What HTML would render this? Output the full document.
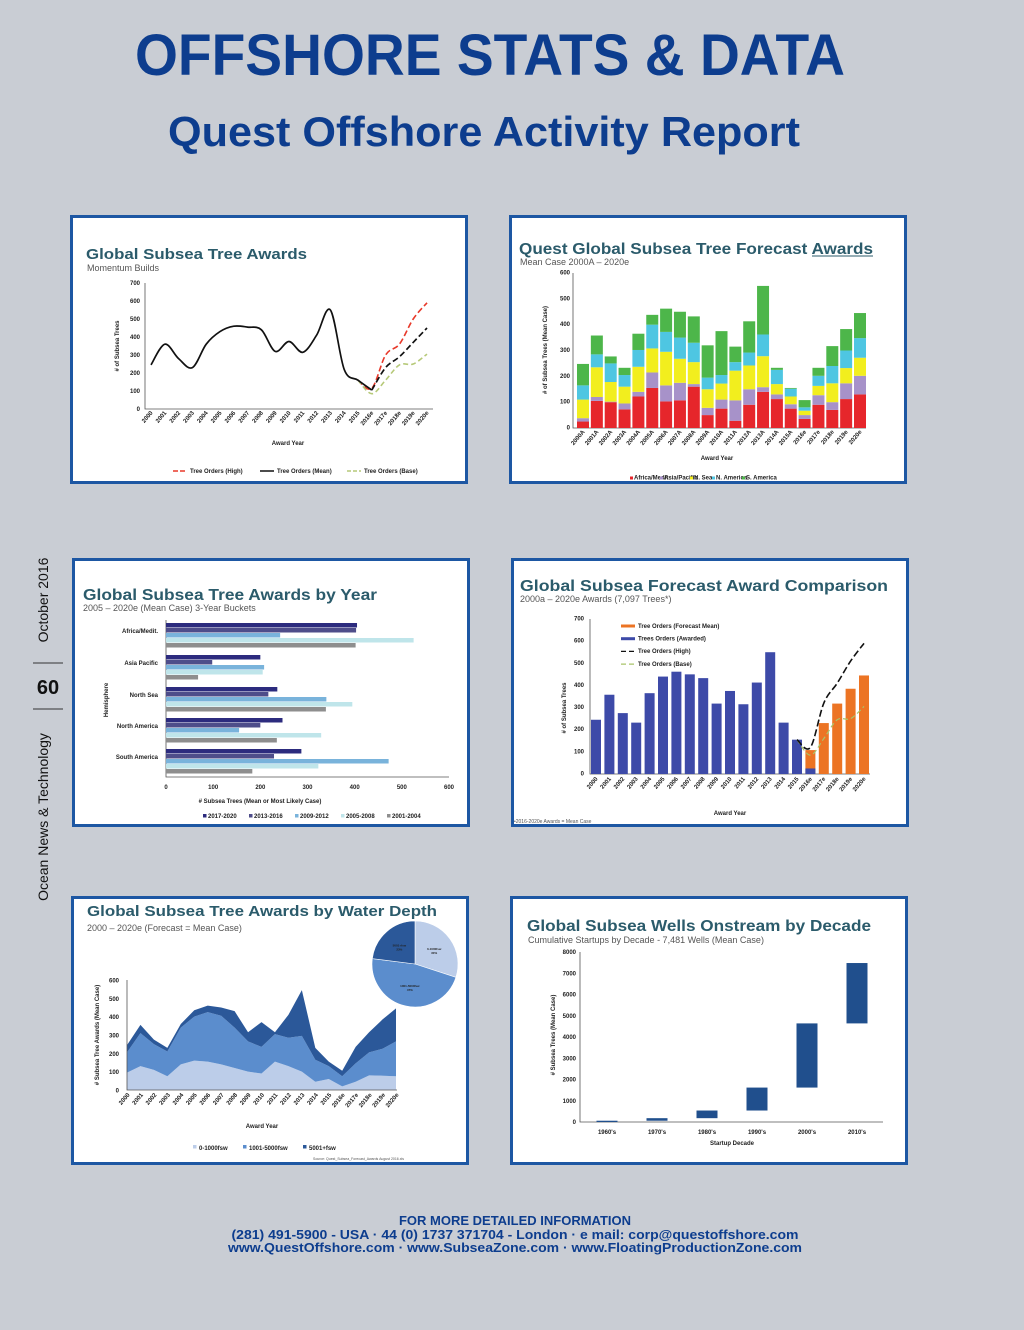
<!DOCTYPE html>
<html><head><meta charset="utf-8"><title>Offshore Stats & Data</title>
<style>
html,body{margin:0;padding:0;background:#c9cdd4;}
svg{display:block;font-family:"Liberation Sans",sans-serif;}
.ct{font-weight:bold;fill:#2b5b6b;}
.cs{fill:#555;}
.tk{font-size:6px;font-weight:bold;fill:#222;}
.ax{stroke:#555;stroke-width:0.8;fill:none;}
</style></head>
<body>
<svg id="page" width="1024" height="1330" viewBox="0 0 1024 1330" xmlns="http://www.w3.org/2000/svg">
<rect x="0" y="0" width="1024" height="1330" fill="#c9cdd4"/>
<text x="490" y="75" text-anchor="middle" font-size="58" font-weight="bold" fill="#0d3d8e" textLength="710" lengthAdjust="spacingAndGlyphs">OFFSHORE STATS &amp; DATA</text>
<text x="484" y="146" text-anchor="middle" font-size="42" font-weight="bold" fill="#0d3d8e" textLength="632" lengthAdjust="spacingAndGlyphs">Quest Offshore Activity Report</text>

<g>
<text transform="translate(48,600) rotate(-90)" text-anchor="middle" font-size="14" fill="#111">October 2016</text>
<line x1="33" y1="663" x2="63" y2="663" stroke="#333" stroke-width="1"/>
<text x="48" y="694" text-anchor="middle" font-size="20" font-weight="bold" fill="#111">60</text>
<line x1="33" y1="709" x2="63" y2="709" stroke="#333" stroke-width="1"/>
<text transform="translate(48,817) rotate(-90)" text-anchor="middle" font-size="14" fill="#111">Ocean News &amp; Technology</text>
</g>

<g>
<rect x="71.5" y="216.5" width="395" height="266" fill="#fff" stroke="#1d57a3" stroke-width="3"/>
<rect x="510.5" y="216.5" width="395" height="266" fill="#fff" stroke="#1d57a3" stroke-width="3"/>
<rect x="73.5" y="559.5" width="395" height="266" fill="#fff" stroke="#1d57a3" stroke-width="3"/>
<rect x="512.5" y="559.5" width="395" height="266" fill="#fff" stroke="#1d57a3" stroke-width="3"/>
<rect x="72.5" y="897.5" width="395" height="266" fill="#fff" stroke="#1d57a3" stroke-width="3"/>
<rect x="511.5" y="897.5" width="395" height="266" fill="#fff" stroke="#1d57a3" stroke-width="3"/>
</g>

<g>
<text class="ct" x="86" y="259" font-size="15" textLength="221" lengthAdjust="spacingAndGlyphs">Global Subsea Tree Awards</text>
<text class="cs" x="87" y="271" font-size="9">Momentum Builds</text>
<text class="ct" x="519" y="254" font-size="16" textLength="354" lengthAdjust="spacingAndGlyphs">Quest Global Subsea Tree Forecast Awards</text>
<line x1="812" y1="256" x2="873" y2="256" stroke="#2b5b6b" stroke-width="1"/>
<text class="cs" x="520" y="265" font-size="9">Mean Case 2000A – 2020e</text>
<text class="ct" x="83" y="600" font-size="16" textLength="294" lengthAdjust="spacingAndGlyphs">Global Subsea Tree Awards by Year</text>
<text class="cs" x="83" y="611" font-size="9">2005 – 2020e (Mean Case) 3-Year Buckets</text>
<text class="ct" x="520" y="591" font-size="16" textLength="368" lengthAdjust="spacingAndGlyphs">Global Subsea Forecast Award Comparison</text>
<text class="cs" x="520" y="602" font-size="9">2000a – 2020e Awards (7,097 Trees*)</text>
<text class="cs" x="514" y="823" font-size="5" fill="#1d57a3">•2016-2020e Awards = Mean Case</text>
<text class="ct" x="87" y="916" font-size="15" textLength="350" lengthAdjust="spacingAndGlyphs">Global Subsea Tree Awards by Water Depth</text>
<text class="cs" x="87" y="931" font-size="9">2000 – 2020e (Forecast = Mean Case)</text>
<text class="cs" x="313" y="1160" font-size="3.5">Source: Quest_Subsea_Forecast_Awards August 2016.xls</text>
<text class="ct" x="527" y="931" font-size="16" textLength="344" lengthAdjust="spacingAndGlyphs">Global Subsea Wells Onstream by Decade</text>
<text class="cs" x="528" y="943" font-size="9">Cumulative Startups by Decade - 7,481 Wells (Mean Case)</text>
</g>

<g id="charts"></g>

<g font-weight="bold" fill="#0d3d8e" font-size="13" text-anchor="middle">
<text x="515" y="1225">FOR MORE DETAILED INFORMATION</text>
<text x="515" y="1239" textLength="567" lengthAdjust="spacingAndGlyphs">(281) 491-5900 - USA  ·  44 (0) 1737 371704 - London  ·  e mail: corp@questoffshore.com</text>
<text x="515" y="1252" textLength="574" lengthAdjust="spacingAndGlyphs">www.QuestOffshore.com  ·  www.SubseaZone.com  ·  www.FloatingProductionZone.com</text>
</g>
</svg>

<script>
// ---------- DATA ----------
const years = ['2000','2001','2002','2003','2004','2005','2006','2007','2008','2009','2010','2011','2012','2013','2014','2015','2016e','2017e','2018e','2019e','2020e'];
const yearsA = ['2000A','2001A','2002A','2003A','2004A','2005A','2006A','2007A','2008A','2009A','2010A','2011A','2012A','2013A','2014A','2015A','2016e','2017e','2018e','2019e','2020e'];
// chart 1
const meanOrders = [245,360,280,230,360,430,460,455,440,320,375,315,410,550,220,160,105,230,290,370,450];
const highOrders = [null,null,null,null,null,null,null,null,null,null,null,null,null,null,null,160,115,300,360,500,590];
const baseOrders = [null,null,null,null,null,null,null,null,null,null,null,null,null,null,null,160,85,160,245,250,305];
const c1Ticks = [0,100,200,300,400,500,600,700];
// chart 2 (stacked by region)
const regionNames = ['Africa/Medit.','Asia/Pacific','N. Sea','N. America','S. America'];
const africa = [25,105,100,72,122,155,103,107,160,50,75,28,90,140,112,75,35,90,70,112,130];
const asiaPac = [13,15,2,23,18,60,62,68,10,28,35,79,60,18,18,17,15,37,30,61,72];
const northSea = [72,115,76,65,97,93,130,93,85,72,62,115,92,120,40,30,17,36,73,59,70];
const northAm = [55,50,72,45,65,92,77,82,75,45,33,33,50,84,55,30,13,39,67,68,76];
const southAm = [83,73,27,28,63,38,90,100,102,125,170,60,121,188,8,3,28,31,77,83,97];
const c2Ticks = [0,100,200,300,400,500,600];
// chart 3
const hemispheres = ['Africa/Medit.','Asia Pacific','North Sea','North America','South America'];
const buckets = ['2017-2020','2013-2016','2009-2012','2005-2008','2001-2004'];
const b2017 = [405,200,236,247,287];
const b2013 = [403,98,217,200,229];
const b2009 = [242,208,340,155,472];
const b2005 = [525,205,395,329,323];
const b2001 = [402,68,339,235,183];
const c3Ticks = [0,100,200,300,400,500,600];
// chart 4
const awarded = [245,358,275,232,365,440,462,450,433,318,375,315,413,550,232,155,25,null,null,null,null];
const forecastMean = [null,null,null,null,null,null,null,null,null,null,null,null,null,null,null,null,108,230,318,385,445];
const highC4 = [null,null,null,null,null,null,null,null,null,null,null,null,null,null,null,155,120,320,410,510,590];
const baseC4 = [null,null,null,null,null,null,null,null,null,null,null,null,null,null,null,155,85,160,245,250,305];
const c4Ticks = [0,100,200,300,400,500,600,700];
// chart 5
const shallow = [95,130,110,75,140,160,155,140,120,100,90,155,130,100,45,60,20,45,80,78,75];
const midDepth = [110,180,140,135,200,240,270,265,220,165,145,150,155,195,120,70,55,100,125,147,190];
const deepWater = [40,45,25,20,20,35,35,45,90,50,135,10,125,250,65,25,30,90,110,160,180];
const c5Ticks = [0,100,200,300,400,500,600];
const pieLabels = ['0-1000fsw','1001-5000fsw','5001+fsw'];
const pieShares = [30,47,23];
// chart 6
const decades = ["1960's","1970's","1980's","1990's","2000's","2010's"];
const wellsPerDecade = [60,120,360,1080,3020,2841];
const c6Ticks = [0,1000,2000,3000,4000,5000,6000,7000,8000];

// ---------- HELPERS ----------
const NS='http://www.w3.org/2000/svg';
const root=document.getElementById('charts');
function mk(tag,attrs,parent){const e=document.createElementNS(NS,tag);for(const k in attrs)e.setAttribute(k,attrs[k]);(parent||root).appendChild(e);return e;}
function txt(x,y,s,attrs,parent){const t=mk('text',Object.assign({x:x,y:y},attrs||{}),parent);t.textContent=s;return t;}
function smooth(pts){let d='M'+pts[0][0]+','+pts[0][1];for(let i=0;i<pts.length-1;i++){const p0=pts[i-1]||pts[i],p1=pts[i],p2=pts[i+1],p3=pts[i+2]||p2;const c1x=p1[0]+(p2[0]-p0[0])/6,c1y=p1[1]+(p2[1]-p0[1])/6,c2x=p2[0]-(p3[0]-p1[0])/6,c2y=p2[1]-(p3[1]-p1[1])/6;d+=' C'+c1x+','+c1y+' '+c2x+','+c2y+' '+p2[0]+','+p2[1];}return d;}
function pts(arr,xf,yf,from,to){const r=[];for(let i=from;i<=to;i++){if(arr[i]!=null)r.push([xf(i),yf(arr[i])]);}return r;}

// ---------- CHART 1 ----------
(function(){
const g=mk('g',{});


const x=i=>151+i*(276/20), y=v=>409-v*(126/700);
mk('path',{d:'M145,283 V409 H433',class:'ax'},g);
c1Ticks.forEach(t=>{const l=txt(140,y(t)+2,String(t),{class:'tk','text-anchor':'end','font-size':'5'},g);

});
years.forEach((s,i)=>{const l=txt(x(i)+2,413,s,{class:'tk','text-anchor':'end','font-size':'5',transform:'rotate(-50 '+(x(i)+2)+' 413)'},g);

});
const yt=txt(0,0,'# of Subsea Trees',{class:'tk','font-size':'5','text-anchor':'middle',transform:'translate(119,346) rotate(-90)'},g);


const xt=txt(288,445,'Award Year',{class:'tk','font-size':'5.5','text-anchor':'middle'},g);


const hi=mk('path',{d:smooth(pts(highOrders,x,y,15,20)),stroke:'#e8392a',fill:'none','stroke-width':1.6,'stroke-dasharray':'6 3'},g);


const ba=mk('path',{d:smooth(pts(baseOrders,x,y,15,20)),stroke:'#b6c978',fill:'none','stroke-width':1.6,'stroke-dasharray':'5 3'},g);


const m1=mk('path',{d:smooth(pts(meanOrders,x,y,0,16)),stroke:'#111',fill:'none','stroke-width':1.7},g);


const m2=mk('path',{d:smooth(pts(meanOrders,x,y,16,20)),stroke:'#111',fill:'none','stroke-width':1.7,'stroke-dasharray':'6 3'},g);


const leg=[['Tree Orders (High)','#e8392a','5 2'],['Tree Orders (Mean)','#111','none'],['Tree Orders (Base)','#b6c978','4 2']];
leg.forEach((l,i)=>{const lx=173+i*87;const e=mk('g',{},g);


mk('line',{x1:lx,y1:471,x2:lx+14,y2:471,stroke:l[1],'stroke-width':1.5,'stroke-dasharray':l[2]},e);
txt(lx+17,473,l[0],{class:'tk','font-size':'5'},e);});
})();

// ---------- CHART 2 ----------
(function(){
const g=mk('g',{});


const x=i=>583+i*(277/20), y=v=>428-v*(155/600);
mk('path',{d:'M573,273 V428 H866',class:'ax'},g);
c2Ticks.forEach(t=>{const l=txt(570,y(t)+1.5,String(t),{class:'tk','text-anchor':'end','font-size':'4.5'},g);

});
yearsA.forEach((s,i)=>{const l=txt(x(i)+2,432,s,{class:'tk','text-anchor':'end','font-size':'4.5',transform:'rotate(-50 '+(x(i)+2)+' 432)'},g);

});
const yt=txt(0,0,'# of Subsea Trees (Mean Case)',{class:'tk','font-size':'4.5','text-anchor':'middle',transform:'translate(547,350) rotate(-90)'},g);


const xt=txt(717,460,'Award Year',{class:'tk','font-size':'4.5','text-anchor':'middle'},g);


const series=[africa,asiaPac,northSea,northAm,southAm];
const cols=['#e6262b','#a792c9','#f2ee1e','#4ec6e2','#4db64a'];
years.forEach((yr,i)=>{let acc=0;series.forEach((s,k)=>{const b=mk('rect',{x:x(i)-6,y:y(acc+s[i]),width:12,height:y(acc)-y(acc+s[i]),fill:cols[k]},g);


acc+=s[i];});});
const legX=[630,660,690,712,742];
regionNames.forEach((n,k)=>{const lx=legX[k];const e=mk('g',{},g);


mk('rect',{x:lx,y:476.5,width:3,height:3,fill:cols[k]},e);
txt(lx+4,479.5,n,{class:'tk','font-size':'3.2'},e);});
})();

// ---------- CHART 3 ----------
(function(){
const g=mk('g',{});


const x=v=>166+v*(283/600);
const cy=[635,667,699,730,761];
mk('path',{d:'M166,620 V777 H449',class:'ax'},g);
c3Ticks.forEach(t=>{const l=txt(x(t),789,String(t),{class:'tk','text-anchor':'middle','font-size':'5'},g);

});
hemispheres.forEach((h,i)=>{const l=txt(158,cy[i]-2,h,{class:'tk','text-anchor':'end','font-size':'5'},g);

});
const yt=txt(0,0,'Hemisphere',{class:'tk','font-size':'5','text-anchor':'middle',transform:'translate(108,700) rotate(-90)'},g);


const xt=txt(260,803,'# Subsea Trees (Mean or Most Likely Case)',{class:'tk','font-size':'5','text-anchor':'middle'},g);


const series=[b2017,b2013,b2009,b2005,b2001];
const cols=['#2c2b7e','#4e4d8a','#79b3db','#bfe5ea','#8e8e8e'];
hemispheres.forEach((h,i)=>{series.forEach((s,k)=>{const b=mk('rect',{x:166,y:cy[i]-12+k*5,width:x(s[i])-166,height:4.5,fill:cols[k]},g);

});});
buckets.forEach((n,k)=>{const lx=203+k*46;const e=mk('g',{},g);


mk('rect',{x:lx,y:814,width:3.5,height:3.5,fill:cols[k]},e);
txt(lx+5,818,n,{class:'tk','font-size':'5'},e);});
})();

// ---------- CHART 4 ----------
(function(){
const g=mk('g',{});


const x=i=>596+i*(268/20), y=v=>774-v*(155/700);
mk('path',{d:'M590,619 V774 H870',class:'ax'},g);
c4Ticks.forEach(t=>{const l=txt(584,y(t)+1.5,String(t),{class:'tk','text-anchor':'end','font-size':'4.5'},g);

});
years.forEach((s,i)=>{const l=txt(x(i)+2,779,s,{class:'tk','text-anchor':'end','font-size':'4.5',transform:'rotate(-50 '+(x(i)+2)+' 779)'},g);

});
const yt=txt(0,0,'# of Subsea Trees',{class:'tk','font-size':'4.5','text-anchor':'middle',transform:'translate(566,708) rotate(-90)'},g);


const xt=txt(730,815,'Award Year',{class:'tk','font-size':'4.5','text-anchor':'middle'},g);


years.forEach((yr,i)=>{
if(forecastMean[i]!=null){const b=mk('rect',{x:x(i)-5,y:y(forecastMean[i]),width:10,height:774-y(forecastMean[i]),fill:'#ec7424'},g);

}
if(awarded[i]!=null){const b=mk('rect',{x:x(i)-5,y:y(awarded[i]),width:10,height:774-y(awarded[i]),fill:'#3d4aa8'},g);

}});
const ba=mk('path',{d:smooth(pts(baseC4,x,y,15,20)),stroke:'#a9c46a',fill:'none','stroke-width':1.2,'stroke-dasharray':'5 3'},g);


const hi=mk('path',{d:smooth(pts(highC4,x,y,15,20)),stroke:'#111',fill:'none','stroke-width':1.6,'stroke-dasharray':'7 3'},g);


const leg=[['Tree Orders (Forecast Mean)','rect','#ec7424'],['Trees Orders (Awarded)','rect','#3d4aa8'],['Tree Orders (High)','dash','#111'],['Tree Orders (Base)','dash','#a9c46a']];
leg.forEach((l,k)=>{const ly=626+k*12.7;const e=mk('g',{},g);


if(l[1]=='rect')mk('rect',{x:621,y:ly-1.5,width:14,height:3,fill:l[2]},e);
else mk('line',{x1:621,y1:ly,x2:635,y2:ly,stroke:l[2],'stroke-width':1.3,'stroke-dasharray':'5 3'},e);
txt(638,ly+1.8,l[0],{class:'tk','font-size':'4.5'},e);});
})();

// ---------- CHART 5 ----------
(function(){
const g=mk('g',{});


const x=i=>127+i*(269/20), y=v=>1090-v*(110/600);
const series=[shallow,midDepth,deepWater];
const cols=['#bccde9','#5b8dcd','#2b5899'];
const names=['0-1000fsw','1001-5000fsw','5001+fsw'];
const base=years.map(()=>0);
series.forEach((s,k)=>{const top=base.map((b,i)=>b+s[i]);
let d='M'+x(0)+','+y(top[0]);for(let i=1;i<top.length;i++)d+=' L'+x(i)+','+y(top[i]);
for(let i=top.length-1;i>=0;i--)d+=' L'+x(i)+','+y(base[i]);d+=' Z';
const a=mk('path',{d:d,fill:cols[k]},g);


for(let i=0;i<top.length;i++)base[i]=top[i];});
mk('path',{d:'M127,980 V1090 H397',class:'ax'},g);
c5Ticks.forEach(t=>{const l=txt(119,y(t)+2.5,String(t),{class:'tk','text-anchor':'end','font-size':'6'},g);

});
years.forEach((s,i)=>{const l=txt(x(i)+3,1095,s,{class:'tk','text-anchor':'end','font-size':'6',transform:'rotate(-50 '+(x(i)+3)+' 1095)'},g);

});
const yt=txt(0,0,'# Subsea Tree Awards (Mean Case)',{class:'tk','font-size':'5.5','text-anchor':'middle',transform:'translate(99,1035) rotate(-90)'},g);


const xt=txt(262,1128,'Award Year',{class:'tk','font-size':'6','text-anchor':'middle'},g);


names.forEach((n,k)=>{const lx=[193,243,303][k];const e=mk('g',{},g);


mk('rect',{x:lx,y:1145,width:3.5,height:3.5,fill:cols[k]},e);
txt(lx+6,1150,n,{class:'tk','font-size':'6'},e);});
const cx=415,cy=964,r=43;let ang=0;
const pcol=['#bccde9','#5b8dcd','#2b5899'];
pieShares.forEach((p,k)=>{const a0=ang*Math.PI/50,a1=(ang+p)*Math.PI/50;
const x0=cx+r*Math.sin(a0),y0=cy-r*Math.cos(a0),x1=cx+r*Math.sin(a1),y1=cy-r*Math.cos(a1);
const s=mk('path',{d:'M'+cx+','+cy+' L'+x0+','+y0+' A'+r+','+r+' 0 '+(p>50?1:0)+' 1 '+x1+','+y1+' Z',fill:pcol[k],stroke:'#fff','stroke-width':0.6},g);


const am=(ang+p/2)*Math.PI/50;const lx=cx+r*0.55*Math.sin(am),ly=cy-r*0.55*Math.cos(am);
const t=txt(lx,ly,pieLabels[k],{'font-size':'3','font-weight':'bold','text-anchor':'middle',fill:'#222'},g);


const t2=txt(lx,ly+4,p+'%',{'font-size':'3','font-weight':'bold','text-anchor':'middle',fill:'#222'},g);


ang+=p;});
})();

// ---------- CHART 6 ----------
(function(){
const g=mk('g',{});


const x=i=>607+i*50, y=v=>1122-v*(170/8000);
mk('path',{d:'M580,952 V1122 H883',class:'ax'},g);
c6Ticks.forEach(t=>{const l=txt(576,y(t)+2,String(t),{class:'tk','text-anchor':'end','font-size':'5'},g);

});
decades.forEach((d,i)=>{const l=txt(x(i),1134,d,{class:'tk','text-anchor':'middle','font-size':'5'},g);

});
const yt=txt(0,0,'# Subsea Trees (Mean Case)',{class:'tk','font-size':'5','text-anchor':'middle',transform:'translate(555,1035) rotate(-90)'},g);


const xt=txt(732,1145,'Startup Decade',{class:'tk','font-size':'5','text-anchor':'middle'},g);


let cum=0;
decades.forEach((d,i)=>{const lo=cum,hi=cum+wellsPerDecade[i];cum=hi;
const b=mk('rect',{x:x(i)-10.5,y:y(hi),width:21,height:Math.max(1.2,y(lo)-y(hi)),fill:'#204f8d'},g);

});
})();
</script>
</body></html>
